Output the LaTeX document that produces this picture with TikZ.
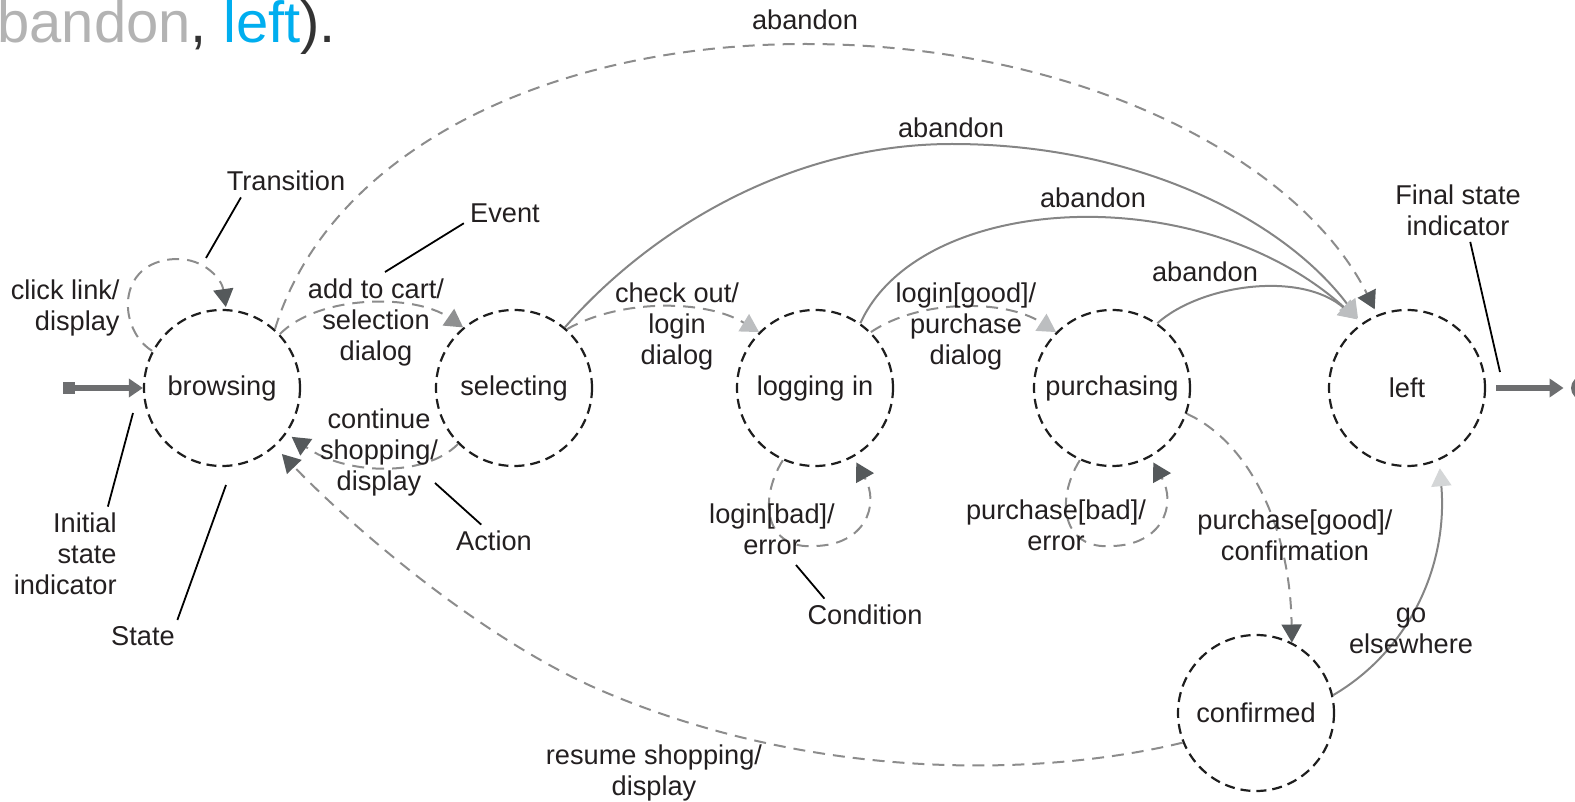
\documentclass[tikz,border=0pt]{standalone}
\usepackage{fontspec}
\setmainfont{Liberation Sans}
\usetikzlibrary{arrows.meta}
\definecolor{textc}{HTML}{231F20}
\definecolor{statec}{HTML}{1E1E1E}
\definecolor{transc}{HTML}{8C8C8C}
\definecolor{solidc}{HTML}{858585}
\definecolor{tipdarkc}{HTML}{55595B}
\definecolor{tipmidc}{HTML}{8F9091}
\definecolor{tiplightc}{HTML}{BCBEC0}
\definecolor{tiplightestc}{HTML}{D4D6D7}
\definecolor{indc}{HTML}{6D6E70}
\definecolor{titlegray}{HTML}{B3B3B3}
\definecolor{titleblue}{HTML}{00AEEF}
\definecolor{titledark}{HTML}{333333}
\newcommand{\lbltext}{\fontsize{13.6pt}{15.5pt}\selectfont}
\newcommand{\titletext}{\fontsize{29pt}{31pt}\selectfont}

\begin{document}
\begin{tikzpicture}[x=0.5pt,y=-0.5pt,
		state/.style={circle,draw=statec,line width=1.1pt,dash pattern=on 5pt off 3pt,minimum size=78pt,inner sep=0pt,font=\lbltext,text=textc},
		lbl/.style={font=\lbltext,text=textc,align=center,inner sep=3pt},
		trans/.style={draw=transc,line width=1pt,dash pattern=on 6pt off 4pt},
		solidtr/.style={draw=solidc,line width=1pt},
		tipdark/.style={-{Triangle[length=9pt,width=10pt,color=tipdarkc]}},
		tipmid/.style={-{Triangle[length=9pt,width=10pt,color=tipmidc]}},
		tiplight/.style={-{Triangle[length=9pt,width=10pt,color=tiplightc]}},
		tiplightest/.style={-{Triangle[length=9pt,width=10pt,color=tiplightestc]}},
		indarrow/.style={draw=indc,line width=2.75pt,-{Triangle[length=7pt,width=9pt,color=indc]}},
		leader/.style={draw=black,line width=0.9pt}]
	\useasboundingbox (0,0) rectangle (1575,802);
	% heading fragment
	\node[anchor=base west,inner sep=0pt,font=\titletext,text=titledark] (heading) at (-3,43) {\textcolor{titlegray}{bandon}, \textcolor{titleblue}{left}).};
	% states
	\node[state] (browsing) at (222,388) {browsing};
	\node[state] (selecting) at (514,388) {selecting};
	\node[state] (loggingin) at (815,388) {logging in};
	\node[state] (purchasing) at (1112,388) {purchasing};
	\node[state] (leftsite) at (1407,388) {left};
	\node[state] (confirmed) at (1256,713) {confirmed};
	% initial and final indicators
	\node[rectangle,fill=indc,minimum size=6pt,inner sep=0pt] (init) at (69,388) {};
	\node[circle,fill=indc,minimum size=12pt,inner sep=0pt] (finaldot) at (1583,388) {};
	\draw[indarrow] (init) -- (browsing);
	\draw[indarrow,shorten <=5pt,shorten >=3.5pt] (leftsite) -- (finaldot);
	% browsing
	\draw[trans,tipdark,shorten >=1pt] (browsing.152) .. controls (118,330) and (115,262) .. (175,259) .. controls (205,258) and (222,280) .. (browsing.87);
	\node[lbl,align=right,anchor=east] (lblclick) at (126,308) {click link/\\display};
	\draw[trans,tipmid] (browsing.43) .. controls (320,294) and (415,294) .. (selecting.130);
	\node[lbl] (lbladd) at (376,322) {add to cart/\\selection\\dialog};
	% selecting
	\draw[trans,tipdark,shorten >=3pt] (selecting.225) .. controls (425,478) and (345,475) .. (browsing.-35);
	\node[lbl] (lblcontinue) at (379,452) {continue\\shopping/\\display};
	\draw[trans,tiplight] (selecting.48) .. controls (620,299) and (705,299) .. (loggingin.135);
	\node[lbl] (lblcheckout) at (677,326) {check out/\\login\\dialog};
	% logging in
	\draw[trans,tiplight] (loggingin.45) .. controls (920,299) and (1005,299) .. (purchasing.135);
	\node[lbl] (lblgood) at (966,326) {login[good]/\\purchase\\dialog};
	\draw[trans,tipdark,shorten >=3pt] (loggingin.-114) .. controls (758,500) and (765,550) .. (815,546) .. controls (865,545) and (880,505) .. (loggingin.-61);
	\node[lbl] (lblbad) at (772,529) {login[bad]/\\error};
	% purchasing
	\draw[trans,tipdark,shorten >=3pt] (purchasing.-114) .. controls (1055,500) and (1062,550) .. (1112,546) .. controls (1162,545) and (1177,505) .. (purchasing.-61);
	\node[lbl] (lblpbad) at (1056,525) {purchase[bad]/\\error};
	\draw[trans,tipdark] (purchasing.-19) .. controls (1245,440) and (1290,520) .. (confirmed.63);
	\node[lbl] (lblpgood) at (1295,535) {purchase[good]/\\confirmation};
	% confirmed
	\draw[solidtr,tiplightest,shorten >=4pt] (confirmed.13) .. controls (1410,650) and (1448,565) .. (leftsite.-66);
	\node[lbl] (lblgo) at (1411,631) {go\\elsewhere};
	\draw[trans,tipdark,shorten >=5pt] (confirmed.-158) .. controls (1050,775) and (820,785) .. (600,690) .. controls (480,638) and (350,525) .. (browsing.-48);
	\node[lbl] (lblresume) at (654,773) {resume shopping/\\display};
	% abandon
	\draw[trans,tipdark,shorten >=3pt] (browsing.48) .. controls (330,150) and (550,44) .. (805,44) .. controls (1080,44) and (1300,160) .. (leftsite.112);
	\node[lbl] (lblab1) at (805,20) {abandon};
	\draw[solidtr,tiplight,shorten >=3pt] (selecting.50) .. controls (650,230) and (790,144) .. (952,144) .. controls (1130,144) and (1280,215) .. (leftsite.125);
	\node[lbl] (lblab2) at (951,128) {abandon};
	\draw[solidtr,tiplight,shorten >=3pt] (loggingin.55) .. controls (920,192) and (1200,177) .. (leftsite.125);
	\node[lbl] (lblab3) at (1093,198) {abandon};
	\draw[solidtr,tiplight,shorten >=3pt] (purchasing.55) .. controls (1200,285) and (1300,270) .. (leftsite.125);
	\node[lbl] (lblab4) at (1205,272) {abandon};
	% callouts
	\node[lbl] (lbltransition) at (286,181) {Transition};
	\node[lbl] (lblevent) at (505,213) {Event};
	\node[lbl,align=right,anchor=east] (lblinitial) at (123,554) {Initial\\state\\indicator};
	\node[lbl] (lblstate) at (143,636) {State};
	\node[lbl] (lblaction) at (494,541) {Action};
	\node[lbl] (lblcondition) at (865,615) {Condition};
	\node[lbl] (lblfinal) at (1458,210) {Final state\\indicator};
	\coordinate (looppt) at (206,258);
	\coordinate (eventpt) at (385,272);
	\coordinate (initpt) at (133,413);
	\coordinate (statept) at (226,485);
	\coordinate (actionpt) at (435,483);
	\coordinate (condpt) at (796,565);
	\coordinate (finalpt) at (1500,372);
	\draw[leader] (lbltransition.200) -- (looppt);
	\draw[leader] (lblevent.194) -- (eventpt);
	\draw[leader] (lblinitial.48) -- (initpt);
	\draw[leader] (lblstate.25) -- (statept);
	\draw[leader] (lblaction.128) -- (actionpt);
	\draw[leader] (lblcondition.158) -- (condpt);
	\draw[leader] (lblfinal.291) -- (finalpt);
\end{tikzpicture}
\end{document}
